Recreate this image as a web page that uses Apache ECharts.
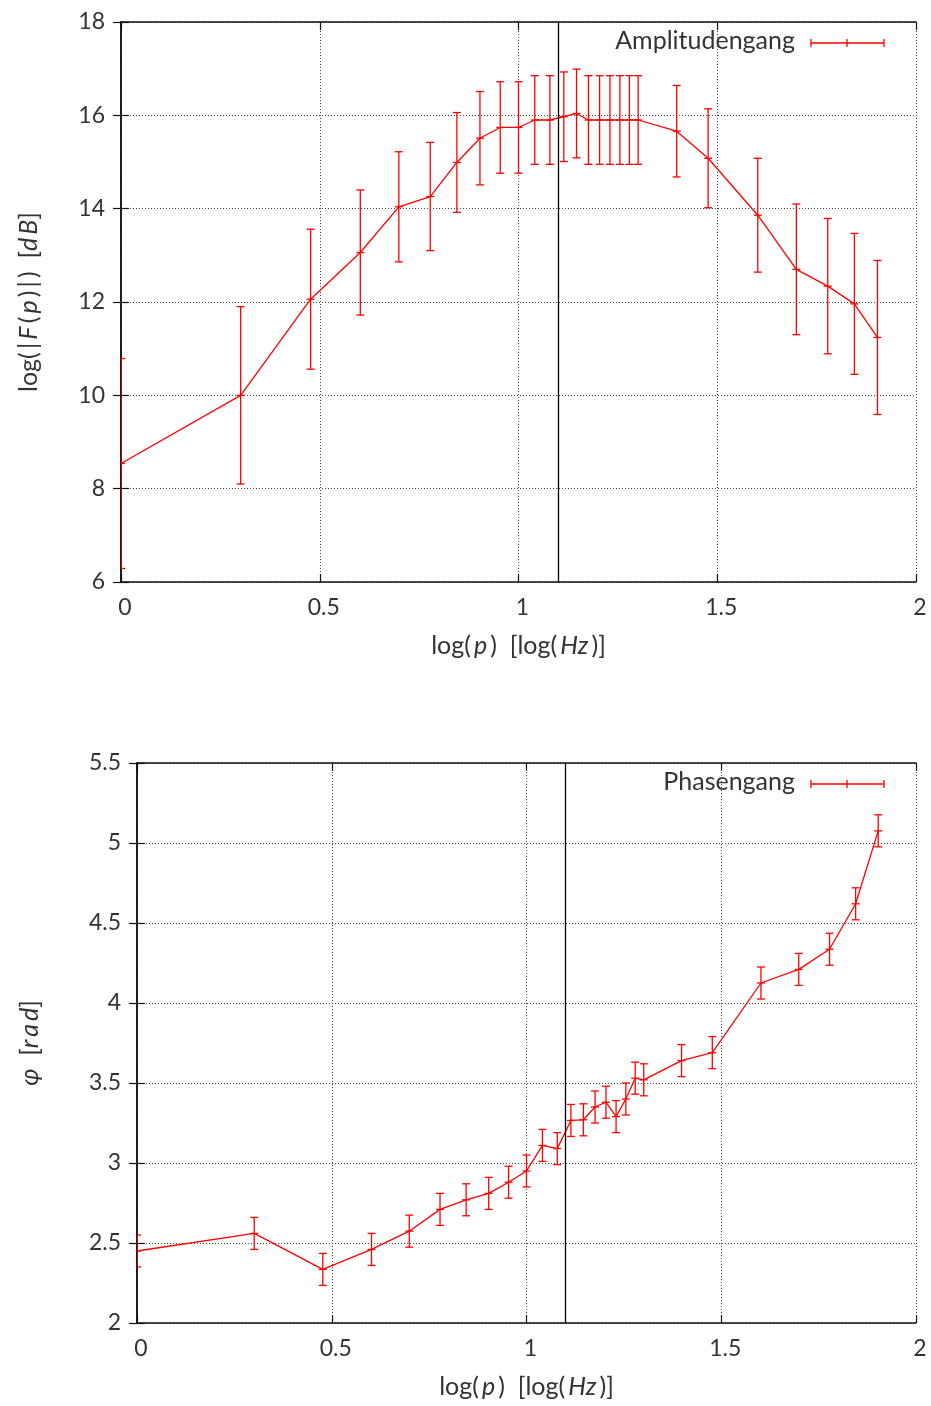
<!DOCTYPE html>
<html>
<head>
<meta charset="utf-8">
<script src="https://cdn.jsdelivr.net/npm/echarts@6/dist/echarts.min.js"></script>
<style>
html,body{margin:0;padding:0;background:#fff;}
#c{width:931px;height:1406px;}
</style>
</head>
<body>
<div id="c"></div>
<script>
// ---- data ----
const logP = [0, 0.301, 0.477, 0.602, 0.699, 0.778, 0.845, 0.903, 0.954, 1.0, 1.041, 1.079, 1.114, 1.146, 1.176, 1.204, 1.230, 1.255, 1.279, 1.301, 1.398, 1.477, 1.602, 1.699, 1.778, 1.845, 1.903];
const ampValues = [8.54, 10.0, 12.06, 13.06, 14.04, 14.26, 14.99, 15.51, 15.74, 15.74, 15.9, 15.9, 15.97, 16.04, 15.9, 15.9, 15.9, 15.9, 15.9, 15.9, 15.66, 15.08, 13.86, 12.70, 12.34, 11.96, 11.24];
const ampErrors = [2.25, 1.9, 1.5, 1.34, 1.18, 1.16, 1.07, 1.0, 0.98, 0.98, 0.95, 0.95, 0.96, 0.95, 0.95, 0.95, 0.95, 0.95, 0.95, 0.95, 0.98, 1.06, 1.22, 1.40, 1.45, 1.51, 1.65];
const phaseValues = [2.45, 2.56, 2.335, 2.46, 2.574, 2.71, 2.77, 2.81, 2.88, 2.95, 3.11, 3.09, 3.266, 3.27, 3.35, 3.38, 3.29, 3.40, 3.53, 3.52, 3.64, 3.69, 4.125, 4.21, 4.336, 4.62, 5.076];
const phaseErrors = [0.1, 0.1, 0.1, 0.1, 0.1, 0.1, 0.1, 0.1, 0.1, 0.1, 0.1, 0.1, 0.1, 0.1, 0.1, 0.1, 0.1, 0.1, 0.1, 0.1, 0.1, 0.1, 0.1, 0.1, 0.1, 0.1, 0.1];
const markerX = 1.1;
const ampTicks = {min: 6, max: 18, interval: 2};
const phaseTicks = {min: 2, max: 5.5, interval: 0.5};
const xTicks = {min: 0, max: 2, interval: 0.5};
const ampLegend = 'Amplitudengang';
const phaseLegend = 'Phasengang';
const T = '\u2009'; // thin space (math spacing)
const xName = '{a|log(' + T + '}{i|p}{a|' + T + ')  [log(' + T + '}{i|Hz}{a|' + T + ')]}';
const ampName = '{a|log(' + T + '|' + T + '}{i|F}{a|' + T + '(' + T + '}{i|p}{a|' + T + ')' + T + '|' + T + ')  [}{i|d' + T + 'B}{a|]}';
const phaseName = '{i|φ}{a|  [}{i|r' + T + 'a' + T + 'd}{a|]}';

// ---- styling ----
const RED = '#ff0000';
const FONT = 'Lato';
const TXT = '#333';

function errRows(vals, errs) {
  return logP.map((x, i) => [x, vals[i], vals[i] - errs[i], vals[i] + errs[i]]);
}
function renderErr(params, api) {
  const x = api.value(0), y = api.value(1), lo = api.value(2), hi = api.value(3);
  const pLo = api.coord([x, lo]), pHi = api.coord([x, hi]), p = api.coord([x, y]);
  const cw = 4, m = 4;
  const style = {stroke: RED, lineWidth: 1.3, fill: null};
  return {type: 'group', children: [
    {type: 'line', shape: {x1: pLo[0], y1: pLo[1], x2: pHi[0], y2: pHi[1]}, style: style},
    {type: 'line', shape: {x1: pLo[0] - cw, y1: pLo[1], x2: pLo[0] + cw, y2: pLo[1]}, style: style},
    {type: 'line', shape: {x1: pHi[0] - cw, y1: pHi[1], x2: pHi[0] + cw, y2: pHi[1]}, style: style},
    {type: 'line', shape: {x1: p[0] - m, y1: p[1], x2: p[0] + m, y2: p[1]}, style: style}
  ]};
}

const gridLine = {show: true, lineStyle: {color: '#444', width: 1, type: [1, 2]}};
const axisLine = {show: true, lineStyle: {color: '#111', width: 1.5}};
const tick = {show: true, inside: true, length: 8, lineStyle: {color: '#111', width: 1.2}};
const lab = {color: TXT, fontFamily: FONT, fontSize: 23};
const nameLab = {color: TXT, fontFamily: FONT, fontSize: 25};
const nameStyle = {rich: {a: Object.assign({}, nameLab), i: Object.assign({fontStyle: 'italic'}, nameLab)}};

function xAxes(gi) {
  return [
    Object.assign({type: 'value', gridIndex: gi, position: 'bottom', axisLine, axisTick: tick,
      axisLabel: Object.assign({margin: 14, padding: [0, 0, 0, 8], showMinLabel: true, showMaxLabel: true,
        formatter: v => String(+v.toFixed(2))}, lab),
      splitLine: gridLine,
      name: xName, nameLocation: 'middle', nameGap: 51, nameTextStyle: nameStyle
    }, xTicks),
    Object.assign({type: 'value', gridIndex: gi, position: 'top', axisLine, axisTick: tick,
      axisLabel: {show: false}, splitLine: {show: false}}, xTicks)
  ];
}
function yAxes(gi, t, nameRich, gap) {
  return [
    Object.assign({type: 'value', gridIndex: gi, position: 'left', axisLine, axisTick: tick,
      axisLabel: Object.assign({margin: 16, showMinLabel: true, showMaxLabel: true,
        formatter: v => String(+v.toFixed(2))}, lab),
      splitLine: gridLine,
      name: nameRich, nameLocation: 'middle', nameGap: gap, nameRotate: 90, nameTextStyle: nameStyle
    }, t),
    Object.assign({type: 'value', gridIndex: gi, position: 'right', axisLine, axisTick: tick,
      axisLabel: {show: false}, splitLine: {show: false}}, t)
  ];
}

const xs = xAxes(0).concat(xAxes(1));
const ys = yAxes(0, ampTicks, ampName, 80).concat(yAxes(1, phaseTicks, phaseName, 95));

function seriesFor(gi, vals, errs) {
  const xi = gi * 2, yi = gi * 2;
  return [
    {type: 'line', xAxisIndex: xi, yAxisIndex: yi, data: logP.map((x, i) => [x, vals[i]]),
      symbol: 'none', lineStyle: {color: RED, width: 1.3}, silent: true, animation: false,
      markLine: {silent: true, symbol: 'none', label: {show: false}, animation: false,
        lineStyle: {color: '#000', width: 1.3, type: 'solid'}, data: [{xAxis: markerX}]}},
    {type: 'custom', xAxisIndex: xi, yAxisIndex: yi, data: errRows(vals, errs),
      renderItem: renderErr, clip: true, silent: true, animation: false,
      encode: {x: 0, y: [1, 2, 3]}}
  ];
}

function legendGraphic(yc, text) {
  const s = {stroke: RED, lineWidth: 1.3};
  return [
    {type: 'text', right: 931 - 795, top: yc - 15, style: {text: text, fill: TXT, font: '25px ' + FONT}},
    {type: 'line', shape: {x1: 811, y1: yc, x2: 884, y2: yc}, style: s},
    {type: 'line', shape: {x1: 811, y1: yc - 4, x2: 811, y2: yc + 4}, style: s},
    {type: 'line', shape: {x1: 884, y1: yc - 4, x2: 884, y2: yc + 4}, style: s},
    {type: 'line', shape: {x1: 847, y1: yc - 4, x2: 847, y2: yc + 4}, style: s}
  ];
}

const chart = echarts.init(document.getElementById('c'), null, {renderer: 'canvas'});
chart.setOption({
  animation: false,
  backgroundColor: '#fff',
  grid: [
    {left: 121, top: 22, width: 795, height: 560},
    {left: 137, top: 763, width: 779, height: 560}
  ],
  xAxis: xs,
  yAxis: ys,
  series: seriesFor(0, ampValues, ampErrors).concat(seriesFor(1, phaseValues, phaseErrors)),
  graphic: legendGraphic(43, ampLegend).concat(legendGraphic(784, phaseLegend))
});
</script>
</body>
</html>
